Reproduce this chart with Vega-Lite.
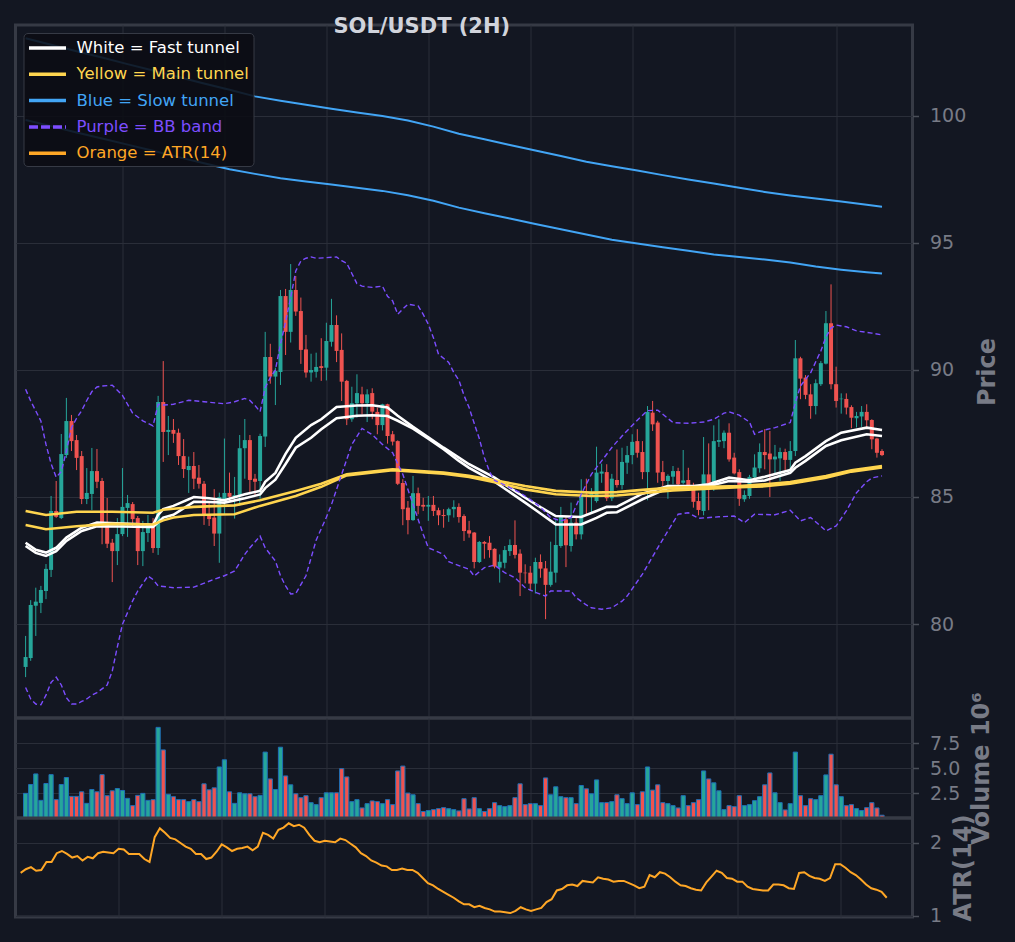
{
  "$schema": "https://vega.github.io/schema/vega-lite/v6.json",
  "background": "#131722",
  "padding": {"left": 13.5, "top": 14, "right": 20, "bottom": 20},
  "spacing": 0,
  "bounds": "flush",
  "datasets": {
    "candles": [
      {"n":1,"o":78.31,"h":79.53,"l":77.91,"c":78.70,"v":2.47,"atr":1.59},
      {"n":2,"o":78.66,"h":80.94,"l":78.55,"c":80.75,"v":3.36,"atr":1.64},
      {"n":3,"o":80.72,"h":81.43,"l":79.53,"c":80.88,"v":4.42,"atr":1.67},
      {"n":4,"o":80.83,"h":81.50,"l":80.43,"c":81.34,"v":1.77,"atr":1.62},
      {"n":5,"o":81.30,"h":82.36,"l":80.98,"c":82.17,"v":3.46,"atr":1.63},
      {"n":6,"o":82.13,"h":85.04,"l":81.85,"c":84.45,"v":4.35,"atr":1.74},
      {"n":7,"o":84.45,"h":85.63,"l":84.18,"c":84.22,"v":1.84,"atr":1.74},
      {"n":8,"o":84.17,"h":87.48,"l":84.13,"c":86.69,"v":3.36,"atr":1.86},
      {"n":9,"o":86.65,"h":88.90,"l":86.54,"c":87.99,"v":4.06,"atr":1.89},
      {"n":10,"o":87.99,"h":88.23,"l":86.81,"c":87.20,"v":2.17,"atr":1.85},
      {"n":11,"o":87.24,"h":87.44,"l":86.06,"c":86.54,"v":2.17,"atr":1.80},
      {"n":12,"o":86.61,"h":86.81,"l":84.72,"c":84.92,"v":2.63,"atr":1.82},
      {"n":13,"o":84.92,"h":86.14,"l":84.72,"c":85.16,"v":1.47,"atr":1.76},
      {"n":14,"o":85.12,"h":86.93,"l":84.49,"c":86.02,"v":2.86,"atr":1.81},
      {"n":15,"o":86.02,"h":86.89,"l":85.35,"c":85.60,"v":2.63,"atr":1.79},
      {"n":16,"o":85.63,"h":85.75,"l":83.14,"c":83.99,"v":4.35,"atr":1.86},
      {"n":17,"o":83.99,"h":84.96,"l":82.99,"c":83.16,"v":2.24,"atr":1.88},
      {"n":18,"o":83.20,"h":83.35,"l":81.65,"c":82.87,"v":2.73,"atr":1.87},
      {"n":19,"o":82.87,"h":84.17,"l":82.32,"c":83.54,"v":2.96,"atr":1.86},
      {"n":20,"o":83.54,"h":86.14,"l":83.46,"c":84.61,"v":2.76,"atr":1.92},
      {"n":21,"o":84.57,"h":85.08,"l":83.43,"c":84.76,"v":1.97,"atr":1.91},
      {"n":22,"o":84.72,"h":84.80,"l":83.78,"c":84.13,"v":1.24,"atr":1.85},
      {"n":23,"o":84.17,"h":84.25,"l":82.32,"c":82.87,"v":2.27,"atr":1.85},
      {"n":24,"o":82.87,"h":84.06,"l":82.28,"c":83.62,"v":2.47,"atr":1.85},
      {"n":25,"o":83.58,"h":84.29,"l":83.23,"c":83.90,"v":1.77,"atr":1.78},
      {"n":26,"o":83.94,"h":84.17,"l":82.80,"c":82.99,"v":1.84,"atr":1.74},
      {"n":27,"o":82.99,"h":88.98,"l":82.72,"c":88.74,"v":9.09,"atr":2.08},
      {"n":28,"o":88.74,"h":90.35,"l":86.38,"c":87.56,"v":6.83,"atr":2.20},
      {"n":29,"o":87.56,"h":88.19,"l":86.65,"c":87.64,"v":2.37,"atr":2.14},
      {"n":30,"o":87.64,"h":88.07,"l":87.13,"c":87.49,"v":2.14,"atr":2.07},
      {"n":31,"o":87.53,"h":87.69,"l":86.26,"c":86.61,"v":1.84,"atr":2.05},
      {"n":32,"o":86.61,"h":87.28,"l":85.75,"c":86.10,"v":1.84,"atr":2.00},
      {"n":33,"o":86.06,"h":86.59,"l":85.16,"c":86.22,"v":1.64,"atr":1.95},
      {"n":34,"o":86.22,"h":86.77,"l":85.31,"c":85.72,"v":1.84,"atr":1.92},
      {"n":35,"o":85.76,"h":86.26,"l":85.33,"c":85.52,"v":1.64,"atr":1.85},
      {"n":36,"o":85.52,"h":85.63,"l":83.90,"c":84.29,"v":3.43,"atr":1.85},
      {"n":37,"o":84.29,"h":84.84,"l":83.86,"c":84.13,"v":2.83,"atr":1.78},
      {"n":38,"o":84.19,"h":85.31,"l":83.07,"c":83.56,"v":3.03,"atr":1.80},
      {"n":39,"o":83.56,"h":85.17,"l":82.41,"c":85.00,"v":5.12,"atr":1.88},
      {"n":40,"o":84.92,"h":87.30,"l":84.29,"c":85.16,"v":5.84,"atr":1.98},
      {"n":41,"o":85.16,"h":85.96,"l":84.84,"c":85.01,"v":2.63,"atr":1.94},
      {"n":42,"o":84.97,"h":85.79,"l":84.15,"c":85.07,"v":1.47,"atr":1.89},
      {"n":43,"o":85.04,"h":87.44,"l":84.65,"c":86.92,"v":2.53,"atr":1.92},
      {"n":44,"o":86.92,"h":88.07,"l":85.72,"c":87.24,"v":2.43,"atr":1.93},
      {"n":45,"o":87.24,"h":87.44,"l":85.12,"c":85.67,"v":2.43,"atr":1.95},
      {"n":46,"o":85.72,"h":85.91,"l":85.04,"c":85.60,"v":2.14,"atr":1.90},
      {"n":47,"o":85.63,"h":87.49,"l":84.93,"c":87.40,"v":2.27,"atr":1.95},
      {"n":48,"o":87.38,"h":91.50,"l":86.97,"c":90.51,"v":6.61,"atr":2.14},
      {"n":49,"o":90.51,"h":91.03,"l":89.46,"c":89.74,"v":3.92,"atr":2.11},
      {"n":50,"o":89.74,"h":90.09,"l":88.62,"c":89.96,"v":2.86,"atr":2.06},
      {"n":51,"o":89.92,"h":93.15,"l":89.41,"c":92.91,"v":7.10,"atr":2.18},
      {"n":52,"o":92.91,"h":93.19,"l":90.59,"c":91.50,"v":4.22,"atr":2.21},
      {"n":53,"o":91.50,"h":94.17,"l":91.08,"c":93.15,"v":3.33,"atr":2.27},
      {"n":54,"o":93.15,"h":93.70,"l":92.13,"c":92.30,"v":2.43,"atr":2.23},
      {"n":55,"o":92.32,"h":92.85,"l":90.24,"c":90.79,"v":2.04,"atr":2.25},
      {"n":56,"o":90.81,"h":91.38,"l":89.70,"c":89.90,"v":2.24,"atr":2.21},
      {"n":57,"o":89.90,"h":90.64,"l":89.54,"c":90.00,"v":1.54,"atr":2.11},
      {"n":58,"o":89.93,"h":90.68,"l":89.70,"c":90.12,"v":1.34,"atr":2.03},
      {"n":59,"o":90.15,"h":91.25,"l":89.57,"c":90.08,"v":2.04,"atr":2.01},
      {"n":60,"o":90.09,"h":91.86,"l":89.59,"c":91.14,"v":2.53,"atr":2.03},
      {"n":61,"o":91.11,"h":92.80,"l":90.92,"c":91.77,"v":2.53,"atr":2.02},
      {"n":62,"o":91.77,"h":92.15,"l":90.31,"c":90.75,"v":2.53,"atr":2.01},
      {"n":63,"o":90.79,"h":91.44,"l":88.78,"c":89.54,"v":4.95,"atr":2.06},
      {"n":64,"o":89.57,"h":89.61,"l":87.83,"c":88.06,"v":4.12,"atr":2.04},
      {"n":65,"o":88.06,"h":89.34,"l":87.96,"c":88.69,"v":1.64,"atr":1.99},
      {"n":66,"o":88.69,"h":89.83,"l":88.12,"c":89.09,"v":1.84,"atr":1.94},
      {"n":67,"o":89.04,"h":89.34,"l":88.25,"c":88.69,"v":1.01,"atr":1.86},
      {"n":68,"o":88.69,"h":89.24,"l":87.95,"c":89.04,"v":1.44,"atr":1.82},
      {"n":69,"o":89.09,"h":89.28,"l":88.06,"c":88.36,"v":1.71,"atr":1.76},
      {"n":70,"o":88.35,"h":88.52,"l":87.47,"c":87.83,"v":1.64,"atr":1.73},
      {"n":71,"o":87.83,"h":88.67,"l":87.62,"c":88.65,"v":1.44,"atr":1.69},
      {"n":72,"o":88.65,"h":88.67,"l":87.10,"c":87.40,"v":1.84,"atr":1.68},
      {"n":73,"o":87.47,"h":87.60,"l":87.03,"c":87.18,"v":1.34,"atr":1.63},
      {"n":74,"o":87.20,"h":87.23,"l":85.47,"c":85.52,"v":4.72,"atr":1.63},
      {"n":75,"o":85.55,"h":85.70,"l":83.89,"c":84.52,"v":5.21,"atr":1.65},
      {"n":76,"o":84.58,"h":84.84,"l":83.53,"c":84.09,"v":2.50,"atr":1.63},
      {"n":77,"o":84.09,"h":85.83,"l":84.06,"c":85.15,"v":2.33,"atr":1.63},
      {"n":78,"o":85.15,"h":85.37,"l":84.32,"c":84.65,"v":1.44,"atr":1.59},
      {"n":79,"o":84.69,"h":84.97,"l":84.45,"c":84.62,"v":0.65,"atr":1.52},
      {"n":80,"o":84.62,"h":85.04,"l":84.06,"c":84.69,"v":0.75,"atr":1.45},
      {"n":81,"o":84.69,"h":85.04,"l":84.25,"c":84.45,"v":0.84,"atr":1.42},
      {"n":82,"o":84.48,"h":84.58,"l":83.89,"c":84.28,"v":0.94,"atr":1.37},
      {"n":83,"o":84.29,"h":84.52,"l":83.79,"c":84.25,"v":1.04,"atr":1.33},
      {"n":84,"o":84.28,"h":84.58,"l":84.02,"c":84.52,"v":0.94,"atr":1.29},
      {"n":85,"o":84.52,"h":84.87,"l":84.19,"c":84.61,"v":0.84,"atr":1.25},
      {"n":86,"o":84.61,"h":84.75,"l":83.99,"c":84.21,"v":0.71,"atr":1.20},
      {"n":87,"o":84.25,"h":84.32,"l":83.27,"c":83.66,"v":1.94,"atr":1.16},
      {"n":88,"o":83.69,"h":84.06,"l":83.40,"c":83.56,"v":0.91,"atr":1.16},
      {"n":89,"o":83.60,"h":83.62,"l":82.19,"c":82.44,"v":2.04,"atr":1.12},
      {"n":90,"o":82.44,"h":83.27,"l":82.40,"c":83.23,"v":0.94,"atr":1.14},
      {"n":91,"o":83.23,"h":83.27,"l":82.57,"c":83.16,"v":0.65,"atr":1.11},
      {"n":92,"o":83.20,"h":83.46,"l":82.61,"c":82.91,"v":0.94,"atr":1.09},
      {"n":93,"o":82.96,"h":82.98,"l":82.19,"c":82.26,"v":1.54,"atr":1.06},
      {"n":94,"o":82.22,"h":82.74,"l":81.63,"c":82.45,"v":1.24,"atr":1.06},
      {"n":95,"o":82.41,"h":83.07,"l":82.19,"c":82.91,"v":1.14,"atr":1.05},
      {"n":96,"o":82.87,"h":83.33,"l":82.68,"c":83.11,"v":1.24,"atr":1.04},
      {"n":97,"o":83.11,"h":84.08,"l":82.58,"c":82.72,"v":2.04,"atr":1.07},
      {"n":98,"o":82.77,"h":82.94,"l":81.10,"c":82.02,"v":3.43,"atr":1.12},
      {"n":99,"o":82.02,"h":82.35,"l":81.60,"c":82.00,"v":1.34,"atr":1.09},
      {"n":100,"o":82.02,"h":82.28,"l":81.30,"c":81.59,"v":1.44,"atr":1.07},
      {"n":101,"o":81.59,"h":82.61,"l":81.20,"c":82.44,"v":1.44,"atr":1.09},
      {"n":102,"o":82.44,"h":82.74,"l":81.82,"c":82.18,"v":1.24,"atr":1.11},
      {"n":103,"o":82.19,"h":82.48,"l":80.19,"c":81.54,"v":4.02,"atr":1.19},
      {"n":104,"o":81.54,"h":83.24,"l":81.47,"c":82.06,"v":2.33,"atr":1.23},
      {"n":105,"o":82.02,"h":84.09,"l":81.63,"c":83.11,"v":3.13,"atr":1.35},
      {"n":106,"o":83.07,"h":84.61,"l":83.00,"c":84.21,"v":2.14,"atr":1.37},
      {"n":107,"o":84.12,"h":84.25,"l":82.24,"c":83.10,"v":2.04,"atr":1.42},
      {"n":108,"o":83.07,"h":84.78,"l":82.85,"c":83.99,"v":2.04,"atr":1.43},
      {"n":109,"o":83.99,"h":84.18,"l":83.33,"c":83.53,"v":1.44,"atr":1.41},
      {"n":110,"o":83.53,"h":85.70,"l":83.33,"c":85.10,"v":3.26,"atr":1.48},
      {"n":111,"o":85.10,"h":85.72,"l":84.32,"c":85.04,"v":2.93,"atr":1.47},
      {"n":112,"o":85.04,"h":85.35,"l":84.40,"c":85.15,"v":2.43,"atr":1.46},
      {"n":113,"o":84.84,"h":86.98,"l":84.78,"c":85.96,"v":3.82,"atr":1.53},
      {"n":114,"o":85.92,"h":86.31,"l":85.56,"c":86.00,"v":1.54,"atr":1.51},
      {"n":115,"o":85.98,"h":86.29,"l":84.84,"c":84.95,"v":1.54,"atr":1.50},
      {"n":116,"o":84.95,"h":85.91,"l":84.84,"c":85.72,"v":1.64,"atr":1.47},
      {"n":117,"o":85.67,"h":86.87,"l":85.37,"c":85.47,"v":2.33,"atr":1.48},
      {"n":118,"o":85.47,"h":86.94,"l":85.30,"c":86.38,"v":1.94,"atr":1.48},
      {"n":119,"o":86.35,"h":87.01,"l":85.91,"c":86.65,"v":1.44,"atr":1.45},
      {"n":120,"o":86.65,"h":87.47,"l":86.29,"c":87.17,"v":2.53,"atr":1.42},
      {"n":121,"o":87.20,"h":87.67,"l":86.55,"c":86.74,"v":1.34,"atr":1.38},
      {"n":122,"o":86.77,"h":87.20,"l":85.70,"c":85.98,"v":2.63,"atr":1.40},
      {"n":123,"o":85.98,"h":88.58,"l":84.87,"c":88.35,"v":5.12,"atr":1.56},
      {"n":124,"o":88.32,"h":88.78,"l":87.60,"c":87.86,"v":2.80,"atr":1.53},
      {"n":125,"o":87.93,"h":88.00,"l":85.56,"c":85.96,"v":3.33,"atr":1.60},
      {"n":126,"o":85.98,"h":86.42,"l":85.43,"c":85.63,"v":1.54,"atr":1.58},
      {"n":127,"o":85.63,"h":85.89,"l":84.93,"c":85.83,"v":1.44,"atr":1.53},
      {"n":128,"o":85.80,"h":86.22,"l":85.50,"c":86.02,"v":1.24,"atr":1.47},
      {"n":129,"o":86.02,"h":86.15,"l":85.43,"c":85.50,"v":1.01,"atr":1.42},
      {"n":130,"o":85.56,"h":86.85,"l":85.50,"c":85.65,"v":2.24,"atr":1.41},
      {"n":131,"o":85.67,"h":86.15,"l":85.37,"c":85.43,"v":1.24,"atr":1.38},
      {"n":132,"o":85.46,"h":85.56,"l":84.58,"c":84.81,"v":1.54,"atr":1.36},
      {"n":133,"o":84.84,"h":85.17,"l":84.28,"c":84.49,"v":1.84,"atr":1.35},
      {"n":134,"o":84.45,"h":87.36,"l":84.28,"c":85.89,"v":4.72,"atr":1.46},
      {"n":135,"o":85.89,"h":87.11,"l":84.48,"c":85.43,"v":3.92,"atr":1.54},
      {"n":136,"o":85.37,"h":87.82,"l":85.24,"c":87.20,"v":3.53,"atr":1.62},
      {"n":137,"o":87.17,"h":88.06,"l":86.97,"c":87.24,"v":2.73,"atr":1.59},
      {"n":138,"o":87.20,"h":87.62,"l":86.92,"c":87.53,"v":0.84,"atr":1.52},
      {"n":139,"o":87.53,"h":87.90,"l":86.39,"c":86.48,"v":1.24,"atr":1.51},
      {"n":140,"o":86.55,"h":86.74,"l":85.89,"c":85.93,"v":1.14,"atr":1.47},
      {"n":141,"o":85.98,"h":86.09,"l":84.65,"c":84.93,"v":2.24,"atr":1.47},
      {"n":142,"o":84.91,"h":85.26,"l":84.81,"c":85.08,"v":1.24,"atr":1.40},
      {"n":143,"o":85.04,"h":85.87,"l":84.93,"c":85.79,"v":1.34,"atr":1.37},
      {"n":144,"o":85.77,"h":86.68,"l":85.60,"c":86.16,"v":1.74,"atr":1.36},
      {"n":145,"o":86.13,"h":87.11,"l":85.96,"c":86.77,"v":2.14,"atr":1.35},
      {"n":146,"o":86.77,"h":87.67,"l":86.09,"c":86.65,"v":3.33,"atr":1.35},
      {"n":147,"o":86.71,"h":87.60,"l":85.00,"c":86.48,"v":4.52,"atr":1.43},
      {"n":148,"o":86.48,"h":87.05,"l":85.91,"c":86.59,"v":2.53,"atr":1.43},
      {"n":149,"o":86.52,"h":86.94,"l":85.63,"c":86.77,"v":1.54,"atr":1.42},
      {"n":150,"o":86.77,"h":86.90,"l":86.05,"c":86.46,"v":0.81,"atr":1.38},
      {"n":151,"o":86.46,"h":87.20,"l":85.96,"c":86.81,"v":1.44,"atr":1.37},
      {"n":152,"o":86.81,"h":91.18,"l":86.61,"c":90.46,"v":6.61,"atr":1.59},
      {"n":153,"o":90.46,"h":90.52,"l":88.85,"c":89.66,"v":2.24,"atr":1.60},
      {"n":154,"o":89.70,"h":89.80,"l":88.85,"c":89.02,"v":1.24,"atr":1.55},
      {"n":155,"o":89.04,"h":89.44,"l":88.08,"c":88.58,"v":1.94,"atr":1.52},
      {"n":156,"o":88.58,"h":89.63,"l":88.25,"c":89.48,"v":1.84,"atr":1.51},
      {"n":157,"o":89.44,"h":90.35,"l":89.37,"c":90.27,"v":2.24,"atr":1.48},
      {"n":158,"o":90.25,"h":92.32,"l":90.22,"c":91.84,"v":4.32,"atr":1.52},
      {"n":159,"o":91.84,"h":93.37,"l":89.24,"c":89.44,"v":6.40,"atr":1.71},
      {"n":160,"o":89.44,"h":90.13,"l":88.52,"c":88.78,"v":3.33,"atr":1.71},
      {"n":161,"o":88.85,"h":89.08,"l":88.28,"c":88.87,"v":2.14,"atr":1.66},
      {"n":162,"o":88.86,"h":89.08,"l":88.25,"c":88.52,"v":1.24,"atr":1.60},
      {"n":163,"o":88.54,"h":88.61,"l":87.71,"c":88.12,"v":1.34,"atr":1.56},
      {"n":164,"o":88.10,"h":88.35,"l":87.74,"c":88.19,"v":0.94,"atr":1.50},
      {"n":165,"o":88.17,"h":88.58,"l":87.76,"c":88.35,"v":0.75,"atr":1.43},
      {"n":166,"o":88.35,"h":88.65,"l":87.74,"c":88.02,"v":1.04,"atr":1.38},
      {"n":167,"o":88.03,"h":88.06,"l":86.88,"c":87.27,"v":1.54,"atr":1.36},
      {"n":168,"o":87.30,"h":87.33,"l":86.55,"c":86.74,"v":1.01,"atr":1.33},
      {"n":169,"o":86.81,"h":86.88,"l":86.61,"c":86.65,"v":0.28,"atr":1.25}
    ],
    "fast": [
      {"n":1,"a":83.20,"b":83.07},{"n":3,"a":82.92,"b":82.80},{"n":5,"a":82.81,"b":82.68},
      {"n":7,"a":83.00,"b":82.87},{"n":9,"a":83.40,"b":83.27},{"n":12,"a":83.79,"b":83.66},
      {"n":15,"a":83.99,"b":83.85},{"n":20,"a":83.95,"b":83.84},{"n":25,"a":83.92,"b":83.82},
      {"n":26,"a":83.90,"b":83.82},{"n":27,"a":84.30,"b":84.00},{"n":28,"a":84.52,"b":84.19},
      {"n":30,"a":84.65,"b":84.30},{"n":34,"a":85.00,"b":84.81},{"n":37,"a":84.95,"b":84.80},
      {"n":40,"a":84.87,"b":84.78},{"n":44,"a":85.11,"b":84.95},{"n":47,"a":85.24,"b":85.10},
      {"n":48,"a":85.60,"b":85.35},{"n":50,"a":85.95,"b":85.68},{"n":52,"a":86.70,"b":86.30},
      {"n":54,"a":87.33,"b":86.94},{"n":57,"a":87.83,"b":87.33},{"n":59,"a":88.06,"b":87.67},
      {"n":62,"a":88.54,"b":88.10},{"n":66,"a":88.60,"b":88.20},{"n":69,"a":88.61,"b":88.22},
      {"n":72,"a":88.52,"b":88.19},{"n":74,"a":88.20,"b":88.00},{"n":77,"a":87.76,"b":87.69},
      {"n":80,"a":87.35,"b":87.30},{"n":83,"a":86.94,"b":86.88},{"n":86,"a":86.55,"b":86.42},
      {"n":88,"a":86.29,"b":86.15},{"n":93,"a":85.76,"b":85.60},{"n":99,"a":84.97,"b":84.78},
      {"n":102,"a":84.60,"b":84.35},{"n":105,"a":84.25,"b":83.92},{"n":110,"a":84.21,"b":83.92},
      {"n":113,"a":84.45,"b":84.18},{"n":115,"a":84.61,"b":84.38},{"n":117,"a":84.62,"b":84.40},
      {"n":122,"a":85.13,"b":84.91},{"n":127,"a":85.43,"b":85.35},{"n":132,"a":85.43,"b":85.35},
      {"n":135,"a":85.50,"b":85.43},{"n":139,"a":85.76,"b":85.63},{"n":143,"a":85.66,"b":85.60},
      {"n":146,"a":85.80,"b":85.65},{"n":151,"a":86.06,"b":85.95},{"n":152,"a":86.35,"b":86.15},
      {"n":154,"a":86.61,"b":86.42},{"n":158,"a":87.20,"b":87.01},{"n":161,"a":87.53,"b":87.23},
      {"n":166,"a":87.73,"b":87.47},{"n":169,"a":87.64,"b":87.40}
    ],
    "main": [
      {"n":1,"a":84.45,"b":83.90},{"n":5,"a":84.29,"b":83.73},{"n":11,"a":84.42,"b":83.85},
      {"n":18,"a":84.42,"b":83.94},{"n":26,"a":84.38,"b":83.92},{"n":28,"a":84.50,"b":84.08},
      {"n":30,"a":84.54,"b":84.19},{"n":34,"a":84.61,"b":84.29},{"n":42,"a":84.67,"b":84.32},
      {"n":47,"a":84.87,"b":84.65},{"n":54,"a":85.24,"b":85.04},{"n":59,"a":85.52,"b":85.40},
      {"n":64,"a":85.89,"b":85.85},{"n":73,"a":86.09,"b":86.05},{"n":83,"a":85.96,"b":85.92},
      {"n":88,"a":85.83,"b":85.79},{"n":93,"a":85.66,"b":85.58},{"n":99,"a":85.43,"b":85.30},
      {"n":105,"a":85.24,"b":85.11},{"n":112,"a":85.17,"b":85.04},{"n":117,"a":85.19,"b":85.06},
      {"n":122,"a":85.28,"b":85.15},{"n":128,"a":85.37,"b":85.26},{"n":135,"a":85.40,"b":85.33},
      {"n":141,"a":85.43,"b":85.39},{"n":146,"a":85.50,"b":85.42},{"n":151,"a":85.59,"b":85.52},
      {"n":158,"a":85.83,"b":85.76},{"n":163,"a":86.05,"b":86.00},{"n":169,"a":86.22,"b":86.16}
    ],
    "slow": [
      {"n":1,"a":103.06,"b":99.84},{"n":6,"a":102.80,"b":99.60},{"n":11,"a":102.55,"b":99.35},
      {"n":16,"a":102.30,"b":99.11},{"n":21,"a":102.04,"b":98.87},{"n":26,"a":101.79,"b":98.63},
      {"n":31,"a":101.53,"b":98.38},{"n":36,"a":101.28,"b":98.14},{"n":41,"a":101.03,"b":97.90},
      {"n":46,"a":100.77,"b":97.72},{"n":51,"a":100.60,"b":97.55},{"n":56,"a":100.44,"b":97.42},
      {"n":61,"a":100.28,"b":97.30},{"n":66,"a":100.14,"b":97.17},{"n":71,"a":100.00,"b":97.05},
      {"n":76,"a":99.82,"b":96.88},{"n":81,"a":99.58,"b":96.66},{"n":86,"a":99.30,"b":96.39},
      {"n":91,"a":99.08,"b":96.17},{"n":96,"a":98.86,"b":95.96},{"n":101,"a":98.64,"b":95.75},
      {"n":106,"a":98.42,"b":95.54},{"n":111,"a":98.20,"b":95.33},{"n":116,"a":98.02,"b":95.13},
      {"n":121,"a":97.85,"b":94.98},{"n":126,"a":97.67,"b":94.83},{"n":131,"a":97.50,"b":94.69},
      {"n":136,"a":97.34,"b":94.55},{"n":141,"a":97.17,"b":94.45},{"n":146,"a":97.01,"b":94.35},
      {"n":151,"a":96.87,"b":94.23},{"n":156,"a":96.75,"b":94.07},{"n":161,"a":96.63,"b":93.95},
      {"n":166,"a":96.50,"b":93.85},{"n":169,"a":96.43,"b":93.80}
    ],
    "bbu": [
      {"n":1,"p":89.24},{"n":2,"p":88.78},{"n":4,"p":87.99},{"n":5,"p":87.07},{"n":6,"p":86.31},
      {"n":7,"p":85.78},{"n":8,"p":86.00},{"n":9,"p":86.80},{"n":10,"p":87.73},{"n":11,"p":88.10},
      {"n":12,"p":88.40},{"n":13,"p":88.80},{"n":14,"p":89.15},{"n":15,"p":89.33},{"n":16,"p":89.37},
      {"n":18,"p":89.40},{"n":19,"p":89.20},{"n":20,"p":89.00},{"n":22,"p":88.30},{"n":24,"p":88.00},
      {"n":26,"p":87.80},{"n":27,"p":88.65},{"n":28,"p":88.62},{"n":30,"p":88.65},{"n":33,"p":88.81},
      {"n":36,"p":88.75},{"n":40,"p":88.67},{"n":42,"p":88.75},{"n":44,"p":88.88},{"n":45,"p":88.80},
      {"n":46,"p":88.60},{"n":47,"p":88.36},{"n":48,"p":89.30},{"n":49,"p":89.70},{"n":50,"p":90.00},
      {"n":51,"p":91.01},{"n":52,"p":91.90},{"n":53,"p":92.85},{"n":54,"p":93.90},{"n":55,"p":94.29},
      {"n":56,"p":94.40},{"n":57,"p":94.45},{"n":58,"p":94.40},{"n":60,"p":94.42},{"n":62,"p":94.45},
      {"n":63,"p":94.30},{"n":64,"p":94.20},{"n":65,"p":93.80},{"n":66,"p":93.40},{"n":67,"p":93.30},
      {"n":69,"p":93.25},{"n":71,"p":93.30},{"n":72,"p":92.90},{"n":73,"p":92.72},{"n":74,"p":92.19},
      {"n":75,"p":92.40},{"n":76,"p":92.59},{"n":78,"p":92.52},{"n":79,"p":92.19},{"n":80,"p":91.80},
      {"n":81,"p":91.27},{"n":82,"p":90.62},{"n":84,"p":90.30},{"n":85,"p":89.90},{"n":86,"p":89.60},
      {"n":87,"p":89.00},{"n":88,"p":88.52},{"n":89,"p":87.90},{"n":90,"p":87.30},{"n":91,"p":86.55},
      {"n":92,"p":86.00},{"n":93,"p":85.65},{"n":95,"p":85.47},{"n":98,"p":85.17},{"n":100,"p":84.90},
      {"n":102,"p":84.60},{"n":104,"p":84.19},{"n":106,"p":84.06},{"n":108,"p":84.19},{"n":110,"p":85.11},
      {"n":112,"p":85.90},{"n":114,"p":86.42},{"n":116,"p":86.95},{"n":118,"p":87.40},{"n":121,"p":88.02},
      {"n":123,"p":88.40},{"n":125,"p":88.42},{"n":128,"p":87.93},{"n":131,"p":87.90},{"n":134,"p":87.95},
      {"n":136,"p":88.06},{"n":138,"p":88.30},{"n":139,"p":88.35},{"n":141,"p":88.22},{"n":143,"p":87.95},
      {"n":144,"p":87.47},{"n":146,"p":87.64},{"n":148,"p":87.73},{"n":151,"p":87.93},{"n":152,"p":88.71},
      {"n":153,"p":89.37},{"n":155,"p":89.89},{"n":157,"p":90.75},{"n":158,"p":91.30},{"n":159,"p":91.65},
      {"n":160,"p":91.77},{"n":162,"p":91.70},{"n":164,"p":91.54},{"n":167,"p":91.45},{"n":169,"p":91.38}
    ],
    "bbl": [
      {"n":1,"p":77.50},{"n":2,"p":77.05},{"n":3,"p":76.85},{"n":4,"p":76.82},{"n":5,"p":77.20},
      {"n":6,"p":77.70},{"n":7,"p":77.91},{"n":8,"p":77.60},{"n":9,"p":77.10},{"n":10,"p":76.85},
      {"n":11,"p":76.85},{"n":12,"p":76.95},{"n":13,"p":77.05},{"n":14,"p":77.20},{"n":15,"p":77.30},
      {"n":17,"p":77.60},{"n":18,"p":78.15},{"n":19,"p":79.10},{"n":20,"p":79.99},{"n":22,"p":80.91},
      {"n":23,"p":81.30},{"n":25,"p":81.89},{"n":26,"p":81.75},{"n":27,"p":81.50},{"n":30,"p":81.43},
      {"n":34,"p":81.45},{"n":38,"p":81.76},{"n":40,"p":81.90},{"n":42,"p":82.09},{"n":44,"p":82.74},
      {"n":45,"p":83.00},{"n":47,"p":83.46},{"n":48,"p":83.00},{"n":50,"p":82.48},{"n":51,"p":81.90},
      {"n":52,"p":81.50},{"n":53,"p":81.18},{"n":54,"p":81.20},{"n":56,"p":81.90},{"n":57,"p":82.60},
      {"n":58,"p":83.30},{"n":60,"p":84.20},{"n":61,"p":84.70},{"n":63,"p":85.89},{"n":65,"p":87.07},
      {"n":67,"p":87.70},{"n":69,"p":87.45},{"n":71,"p":87.07},{"n":73,"p":86.74},{"n":75,"p":85.89},
      {"n":77,"p":84.71},{"n":79,"p":83.53},{"n":80,"p":83.00},{"n":83,"p":82.74},{"n":84,"p":82.45},
      {"n":86,"p":82.30},{"n":88,"p":82.15},{"n":89,"p":81.89},{"n":91,"p":82.22},{"n":93,"p":82.32},
      {"n":95,"p":82.02},{"n":97,"p":81.82},{"n":99,"p":81.43},{"n":101,"p":81.25},{"n":103,"p":81.10},
      {"n":104,"p":81.30},{"n":108,"p":81.30},{"n":109,"p":81.04},{"n":111,"p":80.75},{"n":112,"p":80.64},
      {"n":114,"p":80.58},{"n":116,"p":80.64},{"n":118,"p":80.90},{"n":119,"p":81.10},{"n":122,"p":81.96},
      {"n":125,"p":83.00},{"n":127,"p":83.66},{"n":129,"p":84.32},{"n":131,"p":84.38},{"n":133,"p":84.16},
      {"n":137,"p":84.22},{"n":140,"p":84.25},{"n":142,"p":83.99},{"n":144,"p":84.32},{"n":148,"p":84.30},
      {"n":151,"p":84.48},{"n":153,"p":84.06},{"n":155,"p":84.19},{"n":157,"p":83.85},{"n":158,"p":83.66},
      {"n":160,"p":83.86},{"n":162,"p":84.45},{"n":164,"p":85.17},{"n":166,"p":85.60},{"n":167,"p":85.75},
      {"n":169,"p":85.83}
    ]
  },
  "vconcat": [
    {
      "width": 897,
      "height": 693,
      "title": {"text": "SOL/USDT (2H)", "anchor": "start", "frame": "group", "dx": 318, "offset": -29, "baseline": "alphabetic", "font": "DejaVu Sans", "fontSize": 21, "fontWeight": "bold", "color": "#d1d4dc"},
      "layer": [
        {
          "data": {"name": "candles"},
          "mark": {"type": "rule", "strokeWidth": 1},
          "encoding": {
            "x": {"field": "n", "type": "quantitative", "scale": {"domain": [0, 174], "nice": false, "zero": false}, "axis": {"values": [20, 40, 60, 80, 100, 120, 140, 160], "labels": false, "ticks": false, "title": null, "grid": true}},
            "y": {"field": "l", "type": "quantitative", "scale": {"domain": [76.3, 103.58], "nice": false, "zero": false}, "axis": {"orient": "right", "values": [80, 85, 90, 95, 100], "title": "Price", "grid": true}},
            "y2": {"field": "h"},
            "color": {"condition": {"test": "datum.c >= datum.o", "value": "#26a69a"}, "value": "#ef5350"}
          }
        },
        {
          "data": {"name": "candles"},
          "mark": {"type": "bar", "width": 4},
          "encoding": {
            "x": {"field": "n", "type": "quantitative"},
            "y": {"field": "o", "type": "quantitative"},
            "y2": {"field": "c"},
            "color": {"condition": {"test": "datum.c >= datum.o", "value": "#26a69a"}, "value": "#ef5350"}
          }
        },
        {
          "data": {"name": "fast"},
          "transform": [{"fold": ["a", "b"]}],
          "mark": {"type": "line", "strokeWidth": 2.6},
          "encoding": {
            "x": {"field": "n", "type": "quantitative"},
            "y": {"field": "value", "type": "quantitative"},
            "detail": {"field": "key"},
            "color": {
              "datum": "White = Fast tunnel",
              "type": "nominal",
              "scale": {
                "domain": ["White = Fast tunnel", "Yellow = Main tunnel", "Blue = Slow tunnel", "Purple = BB band", "Orange = ATR(14)"],
                "range": ["#ffffff", "#ffd54f", "#42a5f5", "#7c4dff", "#ffa726"]
              },
              "legend": {
                "orient": "top-left",
                "offset": 8,
                "title": null,
                "fillColor": "rgba(11,13,19,0.88)",
                "strokeColor": "#363a45",
                "cornerRadius": 4,
                "padding": 4,
                "rowPadding": 6.3,
                "symbolType": "M-2,0L2,0",
                "symbolSize": 342,
                "symbolStrokeWidth": 3.5,
                "symbolOffset": 9,
                "labelOffset": 18,
                "labelFont": "DejaVu Sans",
                "labelFontSize": 16.5,
                "labelLimit": 400,
                "encode": {
                  "labels": {"update": {"fill": {"signal": "datum.value === 'White = Fast tunnel' ? '#ffffff' : datum.value === 'Yellow = Main tunnel' ? '#ffd54f' : datum.value === 'Blue = Slow tunnel' ? '#42a5f5' : datum.value === 'Purple = BB band' ? '#7c4dff' : '#ffa726'"}}},
                  "symbols": {"update": {"strokeDash": {"signal": "datum.value === 'Purple = BB band' ? [9, 3] : [100, 0]"}}}
                }
              }
            }
          }
        },
        {
          "data": {"name": "main"},
          "transform": [{"fold": ["a", "b"]}],
          "mark": {"type": "line", "strokeWidth": 2.6},
          "encoding": {
            "x": {"field": "n", "type": "quantitative"},
            "y": {"field": "value", "type": "quantitative"},
            "detail": {"field": "key"},
            "color": {"datum": "Yellow = Main tunnel", "type": "nominal"}
          }
        },
        {
          "data": {"name": "slow"},
          "transform": [{"fold": ["a", "b"]}],
          "mark": {"type": "line", "strokeWidth": 2},
          "encoding": {
            "x": {"field": "n", "type": "quantitative"},
            "y": {"field": "value", "type": "quantitative"},
            "detail": {"field": "key"},
            "color": {"datum": "Blue = Slow tunnel", "type": "nominal"}
          }
        },
        {
          "data": {"name": "bbu"},
          "mark": {"type": "line", "strokeWidth": 1.4, "strokeDash": [5, 3]},
          "encoding": {
            "x": {"field": "n", "type": "quantitative"},
            "y": {"field": "p", "type": "quantitative"},
            "color": {"datum": "Purple = BB band", "type": "nominal"}
          }
        },
        {
          "data": {"name": "bbl"},
          "mark": {"type": "line", "strokeWidth": 1.4, "strokeDash": [5, 3]},
          "encoding": {
            "x": {"field": "n", "type": "quantitative"},
            "y": {"field": "p", "type": "quantitative"},
            "color": {"datum": "Purple = BB band", "type": "nominal"}
          }
        }
      ]
    },
    {
      "width": 897,
      "height": 100,
      "data": {"name": "candles"},
      "mark": {"type": "bar", "width": 4.2, "stroke": "#1f6fb5", "strokeWidth": 1},
      "encoding": {
        "x": {"field": "n", "type": "quantitative", "scale": {"domain": [0, 174], "nice": false, "zero": false}, "axis": {"values": [20, 40, 60, 80, 100, 120, 140, 160], "labels": false, "ticks": false, "title": null, "grid": true}},
        "y": {"field": "v", "type": "quantitative", "scale": {"domain": [0, 10.03], "nice": false, "zero": false}, "axis": {"orient": "right", "values": [2.5, 5, 7.5], "format": ".1f", "title": "Volume   10⁶", "grid": true}},
        "color": {"condition": {"test": "datum.c >= datum.o", "value": "#26a69a"}, "value": "#ef5350"}
      }
    },
    {
      "width": 897,
      "height": 99,
      "data": {"name": "candles"},
      "mark": {"type": "line", "color": "#ffa726", "strokeWidth": 2},
      "encoding": {
        "x": {"field": "n", "type": "quantitative", "scale": {"domain": [0, 174], "nice": false, "zero": false}, "axis": {"values": [20, 40, 60, 80, 100, 120, 140, 160], "labels": false, "ticks": false, "title": null, "grid": true}},
        "y": {"field": "atr", "type": "quantitative", "scale": {"domain": [0.986, 2.342], "nice": false, "zero": false}, "axis": {"orient": "right", "values": [1, 2], "format": "d", "title": "ATR(14)", "grid": true}}
      }
    }
  ],
  "config": {
    "view": {"stroke": "#363a45", "strokeWidth": 3},
    "axis": {
      "domain": false,
      "gridColor": "#2a2e39",
      "gridWidth": 1,
      "labelColor": "#787b86",
      "labelFont": "DejaVu Sans",
      "labelFontSize": 19,
      "labelPadding": 11,
      "tickColor": "#4a4e58",
      "tickSize": 6,
      "tickWidth": 1.5,
      "titleColor": "#787b86",
      "titleFont": "DejaVu Sans",
      "titleFontSize": 24,
      "titleFontWeight": "bold",
      "titleAngle": 270,
      "titleBaseline": "top",
      "titlePadding": 10
    }
  }
}
